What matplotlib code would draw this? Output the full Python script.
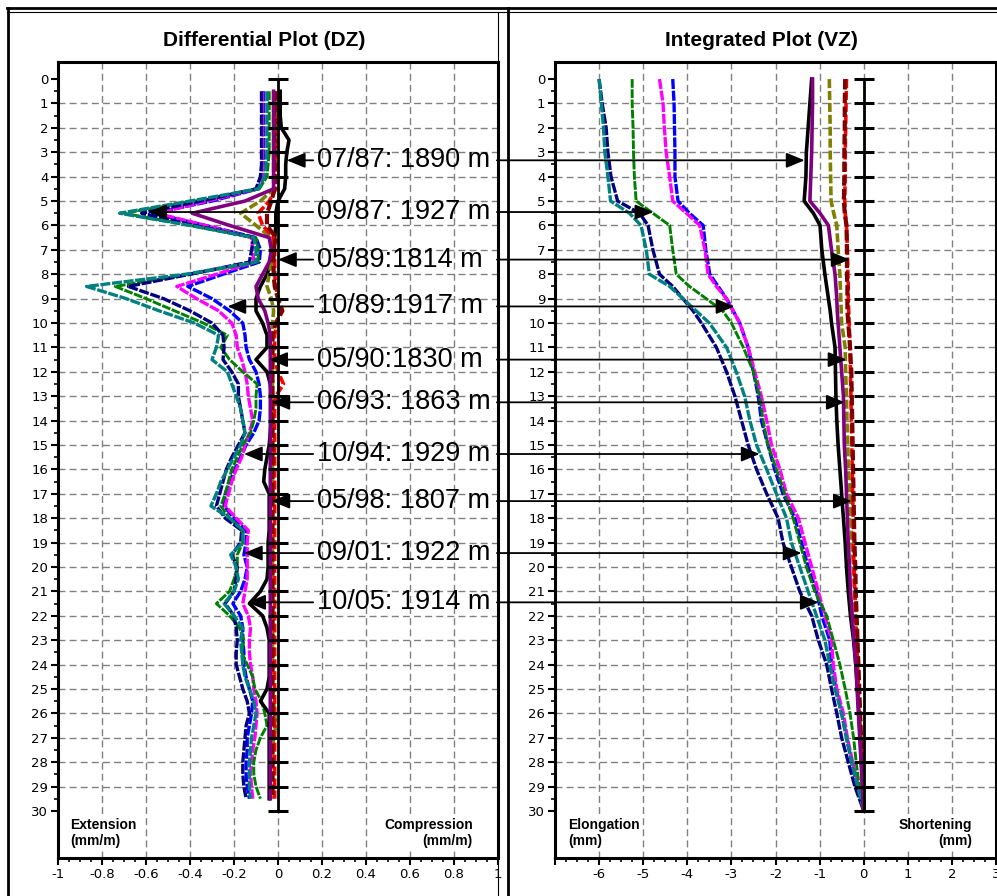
import matplotlib
matplotlib.use("Agg")
import matplotlib.pyplot as plt
import numpy as np
from matplotlib.lines import Line2D
from matplotlib.patches import ConnectionPatch
from matplotlib.ticker import MultipleLocator, FuncFormatter

plt.rcParams["font.family"] = ["Liberation Sans", "DejaVu Sans"]

# ---- differential plot (DZ), mm/m, readings every 0.5 m ----
dz_depth = np.arange(0.5, 30.0, 0.5)

dz_teal = [-0.05, -0.05, -0.05, -0.05, -0.05, -0.05, -0.055, -0.06, -0.09, -0.40,
           -0.72, -0.40, -0.11, -0.10, -0.10, -0.42, -0.87, -0.69, -0.54, -0.38,
           -0.27, -0.28, -0.30, -0.23, -0.21, -0.19, -0.17, -0.16, -0.15, -0.17,
           -0.20, -0.23, -0.26, -0.28, -0.305, -0.22, -0.16, -0.16, -0.215, -0.19,
           -0.18, -0.20, -0.245, -0.20, -0.16, -0.17, -0.165, -0.16, -0.15, -0.13,
           -0.11, -0.10, -0.11, -0.12, -0.125, -0.13, -0.13, -0.13, -0.125]
dz_green = [-0.04, -0.04, -0.04, -0.04, -0.04, -0.04, -0.045, -0.05, -0.085, -0.38,
            -0.70, -0.40, -0.10, -0.09, -0.09, -0.40, -0.74, -0.60, -0.47, -0.34,
            -0.23, -0.26, -0.22, -0.16, -0.095, -0.10, -0.10, -0.11, -0.125, -0.16,
            -0.185, -0.21, -0.225, -0.24, -0.26, -0.22, -0.16, -0.16, -0.185, -0.185,
            -0.20, -0.22, -0.28, -0.22, -0.175, -0.155, -0.165, -0.14, -0.115, -0.105,
            -0.075, -0.06, -0.05, -0.08, -0.10, -0.11, -0.11, -0.10, -0.08]
dz_navy = [-0.075, -0.075, -0.075, -0.075, -0.075, -0.075, -0.075, -0.08, -0.10, -0.35,
           -0.62, -0.38, -0.11, -0.12, -0.13, -0.40, -0.68, -0.52, -0.40, -0.30,
           -0.25, -0.245, -0.25, -0.21, -0.18, -0.18, -0.17, -0.16, -0.15, -0.18,
           -0.21, -0.235, -0.25, -0.265, -0.28, -0.24, -0.165, -0.17, -0.21, -0.185,
           -0.19, -0.20, -0.24, -0.20, -0.19, -0.185, -0.19, -0.19, -0.175, -0.16,
           -0.14, -0.13, -0.145, -0.15, -0.155, -0.16, -0.16, -0.155, -0.145]
dz_blue = [-0.065, -0.065, -0.065, -0.065, -0.065, -0.065, -0.065, -0.065, -0.09, -0.30,
           -0.57, -0.33, -0.10, -0.08, -0.085, -0.25, -0.41, -0.30, -0.22, -0.16,
           -0.15, -0.145, -0.13, -0.10, -0.086, -0.08, -0.08, -0.086, -0.11, -0.145,
           -0.17, -0.195, -0.22, -0.24, -0.245, -0.20, -0.145, -0.145, -0.155, -0.14,
           -0.15, -0.17, -0.205, -0.17, -0.16, -0.16, -0.155, -0.155, -0.145, -0.13,
           -0.115, -0.12, -0.13, -0.14, -0.14, -0.145, -0.145, -0.14, -0.13]
dz_magenta = [-0.07, -0.07, -0.07, -0.07, -0.07, -0.07, -0.07, -0.07, -0.095, -0.32,
              -0.55, -0.33, -0.12, -0.115, -0.11, -0.28, -0.46, -0.37, -0.27, -0.21,
              -0.19, -0.185, -0.165, -0.15, -0.14, -0.135, -0.125, -0.115, -0.13, -0.15,
              -0.165, -0.19, -0.21, -0.225, -0.24, -0.19, -0.135, -0.14, -0.14, -0.14,
              -0.14, -0.15, -0.16, -0.135, -0.125, -0.13, -0.13, -0.125, -0.115, -0.11,
              -0.10, -0.095, -0.10, -0.105, -0.115, -0.12, -0.125, -0.12, -0.115]
dz_purple = [-0.02, -0.02, -0.02, -0.02, -0.02, -0.02, -0.02, -0.02, -0.02, -0.15,
             -0.39, -0.22, -0.04, -0.03, -0.04, -0.07, -0.10, -0.09, -0.06, -0.045,
             -0.035, -0.035, -0.035, -0.035, -0.035, -0.035, -0.035, -0.035, -0.035, -0.035,
             -0.035, -0.035, -0.035, -0.035, -0.035, -0.035, -0.035, -0.035, -0.035, -0.035,
             -0.035, -0.035, -0.035, -0.035, -0.035, -0.035, -0.035, -0.035, -0.035, -0.035,
             -0.035, -0.035, -0.035, -0.035, -0.035, -0.035, -0.035, -0.035, -0.035]
dz_olive = [-0.02, -0.02, -0.02, -0.02, -0.02, -0.02, -0.02, -0.02, -0.02, -0.08,
            -0.17, -0.10, -0.03, -0.02, -0.03, -0.04, -0.05, -0.03, -0.02, -0.025,
            -0.025, -0.025, -0.025, -0.025, -0.025, -0.025, -0.025, -0.025, -0.025, -0.025,
            -0.025, -0.025, -0.025, -0.025, -0.025, -0.025, -0.025, -0.025, -0.025, -0.025,
            -0.025, -0.025, -0.025, -0.025, -0.025, -0.025, -0.025, -0.025, -0.025, -0.025,
            -0.02, -0.015, -0.01, -0.02, -0.025, -0.025, -0.025, -0.025, -0.025]
dz_red = [-0.01, -0.01, -0.01, -0.01, -0.01, -0.01, -0.01, -0.01, -0.01, -0.04,
          -0.09, -0.07, -0.02, -0.015, -0.015, -0.015, -0.01, 0.0, 0.01, -0.005,
          -0.015, -0.015, -0.015, 0.0, 0.025, -0.01, -0.015, -0.015, -0.015, -0.015,
          -0.015, -0.015, -0.015, -0.015, -0.015, -0.015, -0.015, -0.015, -0.015, -0.015,
          -0.015, -0.015, -0.015, -0.015, -0.015, -0.015, -0.015, -0.015, -0.015, -0.015,
          -0.015, -0.015, -0.015, -0.015, -0.015, -0.015, -0.015, -0.015, -0.015]
dz_darkred = [-0.015, -0.015, -0.015, -0.015, -0.015, -0.015, -0.015, -0.015, -0.015, -0.03,
              -0.05, -0.05, -0.01, -0.02, -0.02, -0.02, -0.015, 0.0, 0.02, -0.01,
              -0.025, -0.025, -0.025, -0.025, -0.025, -0.025, -0.025, -0.025, -0.025, -0.025,
              -0.025, -0.025, -0.025, -0.025, -0.025, -0.025, -0.025, -0.025, -0.025, -0.025,
              -0.025, -0.025, -0.025, -0.025, -0.025, -0.025, -0.025, -0.025, -0.025, -0.025,
              -0.025, -0.025, -0.025, -0.025, -0.025, -0.025, -0.025, -0.025, -0.025]
dz_black = [0.01, 0.01, 0.01, 0.015, 0.05, 0.04, 0.035, 0.035, 0.03, 0.0,
            -0.01, -0.01, -0.015, -0.02, -0.03, -0.05, -0.08, -0.10, -0.10, -0.07,
            -0.05, -0.05, -0.10, -0.05, -0.035, -0.03, -0.03, -0.03, -0.035, -0.04,
            -0.05, -0.06, -0.065, -0.04, -0.04, -0.04, -0.04, -0.045, -0.045, -0.045,
            -0.05, -0.08, -0.13, -0.07, -0.05, -0.04, -0.04, -0.04, -0.04, -0.05,
            -0.08, -0.04, -0.04, -0.04, -0.04, -0.04, -0.04, -0.04, -0.04]

# ---- integrated plot (VZ), mm ----
vz_depth = [0, 1, 2, 3, 4, 5, 5.5, 6, 7, 8, 8.5, 9, 9.5, 10, 11, 12, 13, 14, 15,
            16, 17, 18, 19, 20, 21, 22, 23, 24, 25, 26, 27, 28, 29, 30]

vz_navy = [-6.0, -5.93, -5.84, -5.8, -5.73, -5.58, -5.08, -4.89, -4.78, -4.63, -4.33,
           -4.1, -3.87, -3.68, -3.34, -3.11, -2.92, -2.77, -2.62, -2.43, -2.2, -1.94,
           -1.83, -1.64, -1.45, -1.18, -1.03, -0.84, -0.73, -0.61, -0.5, -0.35, -0.2, 0.0]
vz_teal = [-6.0, -5.95, -5.9, -5.87, -5.8, -5.74, -5.31, -5.05, -4.93, -4.86, -4.4,
           -4.1, -3.8, -3.5, -3.11, -2.89, -2.7, -2.58, -2.43, -2.2, -1.98, -1.75,
           -1.64, -1.45, -1.26, -1.07, -0.88, -0.77, -0.65, -0.5, -0.39, -0.27, -0.14, 0.0]
vz_green = [-5.25, -5.25, -5.23, -5.22, -5.2, -5.16, -4.78, -4.4, -4.33, -4.25, -3.95,
            -3.57, -3.2, -3.0, -2.73, -2.5, -2.36, -2.28, -2.17, -1.98, -1.79, -1.6,
            -1.45, -1.3, -1.11, -0.84, -0.69, -0.54, -0.42, -0.31, -0.23, -0.17, -0.1, 0.0]
vz_magenta = [-4.63, -4.55, -4.52, -4.48, -4.4, -4.33, -4.02, -3.72, -3.6, -3.53, -3.34,
              -3.11, -2.96, -2.81, -2.62, -2.47, -2.32, -2.2, -2.09, -1.9, -1.75, -1.48,
              -1.33, -1.18, -1.03, -0.88, -0.73, -0.69, -0.61, -0.46, -0.37, -0.25, -0.12, 0.0]
vz_blue = [-4.33, -4.3, -4.29, -4.28, -4.28, -4.21, -3.95, -3.64, -3.58, -3.49, -3.3,
           -3.11, -2.96, -2.81, -2.62, -2.5, -2.39, -2.32, -2.17, -2.02, -1.83, -1.56,
           -1.41, -1.26, -1.07, -0.95, -0.77, -0.73, -0.63, -0.5, -0.39, -0.27, -0.14, 0.0]
vz_black = [-1.18, -1.22, -1.26, -1.3, -1.31, -1.35, -1.14, -0.99, -0.95, -0.88, -0.84,
            -0.8, -0.76, -0.73, -0.65, -0.64, -0.63, -0.61, -0.58, -0.54, -0.5, -0.46,
            -0.42, -0.39, -0.35, -0.3, -0.23, -0.18, -0.14, -0.11, -0.08, -0.05, -0.02, 0.0]
vz_purple = [-1.16, -1.16, -1.17, -1.18, -1.2, -1.22, -0.99, -0.8, -0.73, -0.65, -0.63,
             -0.61, -0.6, -0.58, -0.54, -0.5, -0.46, -0.45, -0.44, -0.41, -0.39, -0.37,
             -0.35, -0.32, -0.3, -0.26, -0.22, -0.18, -0.15, -0.12, -0.09, -0.06, -0.03, 0.0]
vz_olive = [-0.78, -0.77, -0.76, -0.76, -0.75, -0.74, -0.68, -0.61, -0.58, -0.54, -0.53,
            -0.52, -0.51, -0.5, -0.42, -0.41, -0.39, -0.38, -0.36, -0.35, -0.31, -0.29,
            -0.27, -0.23, -0.21, -0.19, -0.17, -0.15, -0.12, -0.1, -0.07, -0.05, -0.02, 0.0]
vz_red = [-0.39, -0.4, -0.41, -0.42, -0.42, -0.43, -0.42, -0.39, -0.37, -0.36, -0.35,
          -0.35, -0.34, -0.33, -0.31, -0.3, -0.29, -0.28, -0.27, -0.26, -0.25, -0.24,
          -0.23, -0.22, -0.2, -0.18, -0.16, -0.14, -0.12, -0.1, -0.07, -0.05, -0.02, 0.0]
vz_darkred = [-0.42, -0.43, -0.43, -0.44, -0.44, -0.45, -0.43, -0.39, -0.38, -0.38, -0.37,
              -0.37, -0.37, -0.35, -0.31, -0.28, -0.27, -0.26, -0.25, -0.24, -0.23, -0.22,
              -0.21, -0.19, -0.18, -0.16, -0.14, -0.12, -0.1, -0.08, -0.06, -0.04, -0.02, 0.0]

# survey labels: depth of arrow (m), tip in DZ plot, tip in VZ plot
survey_labels = ["07/87: 1890 m", "09/87: 1927 m", "05/89:1814 m", "10/89:1917 m",
                 "05/90:1830 m", "06/93: 1863 m", "10/94: 1929 m", "05/98: 1807 m",
                 "09/01: 1922 m", "10/05: 1914 m"]
label_depth = [3.33, 5.45, 7.4, 9.32, 11.5, 13.25, 15.37, 17.3, 19.43, 21.45]
dz_tip = [0.04, -0.59, 0.0, -0.23, -0.04, -0.03, -0.155, -0.03, -0.155, -0.14]
vz_tip = [-1.34, -4.77, -0.32, -2.93, -0.39, -0.43, -2.36, -0.27, -1.41, -1.02]

ref_depth = list(range(0, 31))

dotted = (0, (3, 0.5))
dashed = (0, (2.5, 0.8))
styles = [
    ("blue", "#0000ff", 2.4, dotted),
    ("magenta", "#ff00ff", 2.4, dotted),
    ("green", "#008000", 2.1, dotted),
    ("navy", "#000080", 2.4, dotted),
    ("teal", "#008080", 2.4, dotted),
    ("black", "#000000", 2.6, "-"),
    ("olive", "#808000", 2.6, dashed),
    ("red", "#ff0000", 2.6, dashed),
    ("darkred", "#800000", 3.0, dashed),
    ("purple", "#800080", 2.6, "-"),
]
dz_series = {"teal": dz_teal, "green": dz_green, "navy": dz_navy, "blue": dz_blue,
             "magenta": dz_magenta, "purple": dz_purple, "olive": dz_olive,
             "red": dz_red, "darkred": dz_darkred, "black": dz_black}
vz_series = {"teal": vz_teal, "green": vz_green, "navy": vz_navy, "blue": vz_blue,
             "magenta": vz_magenta, "purple": vz_purple, "olive": vz_olive,
             "red": vz_red, "darkred": vz_darkred, "black": vz_black}

W, H = 997, 896
fig = plt.figure(figsize=(W / 100, H / 100), dpi=100)
fig.patch.set_facecolor("white")

ax1 = fig.add_axes([58 / W, 1 - 858 / H, 440 / W, 796 / H])
ax2 = fig.add_axes([555 / W, 1 - 858 / H, 441 / W, 796 / H])


def make_fmt(skip):
    def fmt(v, pos):
        v = round(v, 2)
        if skip is not None and abs(v - skip) < 1e-9:
            return ""
        if abs(v) < 1e-9:
            return "0"
        return f"{v:g}"
    return fmt


def setup(ax, xlim, major, minor, skip=None):
    ax.set_xlim(*xlim)
    ax.set_ylim(31.93, -0.70)
    ax.xaxis.set_major_locator(MultipleLocator(major))
    ax.xaxis.set_minor_locator(MultipleLocator(minor))
    ax.xaxis.set_major_formatter(FuncFormatter(make_fmt(skip)))
    ax.set_yticks(ref_depth)
    ax.set_yticks(np.arange(0.5, 30, 1.0), minor=True)
    ax.grid(True, which="major", color="#808080", linestyle=(0, (5, 3)), lw=1.0)
    ygl = ax.get_ygridlines()
    ygl[0].set_visible(False)
    ygl[-1].set_visible(False)
    ax.tick_params(which="major", direction="out", length=5, width=1.5,
                   labelsize=9.5, pad=2)
    ax.tick_params(which="minor", direction="out", length=3, width=1.2)
    for lab in ax.get_xticklabels() + ax.get_yticklabels():
        lab.set_fontfamily("DejaVu Sans")
    for sp in ax.spines.values():
        sp.set_linewidth(2.2)
    ax.set_axisbelow(True)


setup(ax1, (-1, 1), 0.2, 0.05)
setup(ax2, (-7, 3), 1, 0.25, skip=-7)

for name, color, lw, ls in styles:
    ax1.plot(dz_series[name], dz_depth, color=color, lw=lw, linestyle=ls, zorder=3)
    ax2.plot(vz_series[name], vz_depth, color=color, lw=lw, linestyle=ls, zorder=3)

# zero reference line with depth marks
ax1.plot(np.zeros(len(ref_depth)), ref_depth, color="black", lw=2, marker="_",
         ms=14, mew=2.2, zorder=5)
ax2.plot(np.zeros(len(ref_depth)), ref_depth, color="black", lw=2, marker="_",
         ms=14, mew=2.2, zorder=5)

# corner labels
box = dict(facecolor="white", edgecolor="none", pad=1)
ax1.text(0.027, 0.012, "Extension\n(mm/m)", transform=ax1.transAxes, fontsize=10,
         fontweight="bold", ha="left", va="bottom", bbox=box, zorder=4)
ax1.text(0.943, 0.012, "Compression\n(mm/m)", transform=ax1.transAxes, fontsize=10,
         fontweight="bold", ha="right", va="bottom", multialignment="right",
         bbox=box, zorder=4)
ax2.text(0.03, 0.012, "Elongation\n(mm)", transform=ax2.transAxes, fontsize=10,
         fontweight="bold", ha="left", va="bottom", bbox=box, zorder=4)
ax2.text(0.946, 0.012, "Shortening\n(mm)", transform=ax2.transAxes, fontsize=10,
         fontweight="bold", ha="right", va="bottom", multialignment="right",
         bbox=box, zorder=4)

# titles
fig.text(264 / W, 1 - 41 / H, "Differential Plot (DZ)", fontsize=15,
         fontweight="bold", ha="center", va="center")
fig.text(761 / W, 1 - 41 / H, "Integrated Plot (VZ)", fontsize=15,
         fontweight="bold", ha="center", va="center")

# survey arrows
head = "-|>,head_length=0.8,head_width=0.33"
for lab, d, tl, tr in zip(survey_labels, label_depth, dz_tip, vz_tip):
    ax1.text(0.175, d, lab, fontsize=19.5, ha="left", va="center", zorder=7)
    ax1.annotate("", xy=(tl, d), xytext=(0.16, d), zorder=7,
                 arrowprops=dict(arrowstyle=head, color="black", lw=1.3,
                                 mutation_scale=14, shrinkA=0, shrinkB=0))
    con = ConnectionPatch(xyA=(0.995, d), coordsA=ax1.transData,
                          xyB=(tr, d), coordsB=ax2.transData,
                          arrowstyle=head, mutation_scale=14, color="black",
                          lw=1.3, shrinkA=0, shrinkB=0, zorder=7)
    fig.add_artist(con)

# panel frame lines
frame = [
    ([7 / W, 1.0], [1 - 8 / H, 1 - 8 / H], 2.0),
    ([7 / W, 1.0], [1 - 12 / H, 1 - 12 / H], 0.8),
    ([8 / W, 8 / W], [0.0, 1 - 8 / H], 2.0),
    ([508 / W, 508 / W], [0.0, 1 - 8 / H], 2.0),
    ([497.5 / W, 497.5 / W], [0.0, 1 - 12 / H], 0.8),
]
for xs, ys, lw in frame:
    fig.add_artist(Line2D(xs, ys, transform=fig.transFigure, color="black", lw=lw))

fig.savefig("out.png", dpi=100)
